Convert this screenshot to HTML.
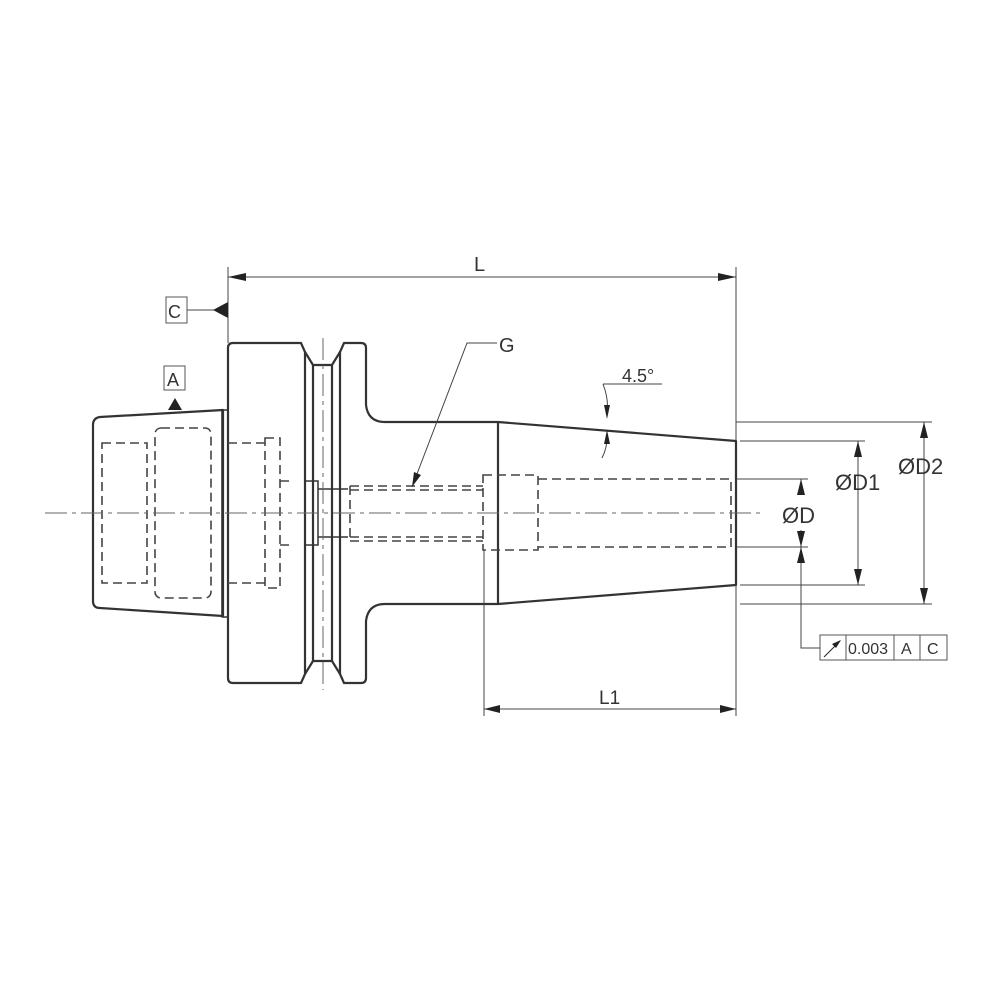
<!DOCTYPE html>
<html><head><meta charset="utf-8"><style>
html,body{margin:0;padding:0;background:#fff}
svg{display:block}
text{font-family:"Liberation Sans",sans-serif;fill:#333}
</style></head><body>
<svg width="1000" height="1000" viewBox="0 0 1000 1000">
<g fill="none" stroke="#333" stroke-width="2.2" stroke-linejoin="round">
<path d="M223,410 L100,417 Q93,418 93,425 L93,601 Q93,608 100,608 L223,616 Z"/>
<rect x="222" y="410" width="6" height="207" stroke-width="1.6"/>
<path d="M233,343 L301,343 L305,352 L305,674 L301,683 L233,683 Q228,683 228,678 L228,348 Q228,343 233,343 Z"/>
<path d="M305,352 L313,365 L332,365 L340,352 L340,674 L332,661 L313,661 L305,674"/>
<line x1="313" y1="365" x2="313" y2="661"/>
<line x1="332" y1="365" x2="332" y2="661"/>
<path d="M340,352 L344,343 L361,343 Q366,343 366,348 L366,405 Q368,422 385,422 L498,422 L736,441 L736,585 L498,604 L385,604 Q368,604 366,621 L366,678 Q366,683 361,683 L344,683 L340,674"/>
<line x1="498" y1="422" x2="498" y2="604"/>
</g>
<g fill="none" stroke="#333" stroke-width="1.5">
<rect x="305" y="481" width="13" height="64"/>
<path d="M318,489 L348,489 M318,537 L348,537"/>
</g>
<g fill="none" stroke="#444" stroke-width="1.6" stroke-dasharray="9,5">
<path d="M102,443 L147,443 L147,583 L102,583 Z"/>
<rect x="155" y="428" width="56" height="170" rx="6"/>
<path d="M228,443 L265,443 M228,583 L265,583"/>
<rect x="265" y="438" width="15" height="150"/>
<path d="M280,481 L293,481 M280,545 L293,545"/>
<path d="M350,486 L483,486 M350,490 L483,490 M350,537 L483,537 M350,541 L483,541 M350,486 L350,541"/>
<rect x="483" y="475" width="55" height="75"/>
<path d="M538,479 L731,479 L731,547 L538,547"/>
</g>
<g stroke="#666" stroke-width="1" fill="none" stroke-dasharray="22,5,4,5">
<line x1="45" y1="513" x2="765" y2="513"/>
<line x1="323" y1="338" x2="323" y2="690"/>
</g>
<g stroke="#444" stroke-width="1" fill="none">
<path d="M228,267 L228,343 M736,267 L736,440 M228,277 L736,277"/>
<path d="M187,310 L215,310"/>
<path d="M497,343 L467,343 L412,487"/>
<path d="M603,384 L662,384 M603,384 Q609,400 607,412 M607,438 Q607,448 602,458"/>
<path d="M736,422 L932,422 M740,604 L932,604 M924,422 L924,604"/>
<path d="M740,441 L865,441 M740,585 L865,585 M858,441 L858,585"/>
<path d="M736,479 L808,479 M736,547 L808,547 M801,479 L801,495 M801,530 L801,648 L820,648"/>
<path d="M484,550 L484,716 M736,585 L736,716 M484,709 L736,709"/>
</g>
<g fill="#222" stroke="none">
<path d="M228,277 L246,273 L246,281 Z"/>
<path d="M736,277 L718,273 L718,281 Z"/>
<path d="M213,310 L228,302 L228,318 Z"/>
<path d="M175,398 L168,410 L182,410 Z"/>
<path d="M412,487 L414,472 L421,475 Z"/>
<path d="M607,419 L604,405 L610,405 Z"/>
<path d="M607,430 L604,444 L610,444 Z"/>
<path d="M924,422 L920,438 L928,438 Z"/>
<path d="M924,604 L920,588 L928,588 Z"/>
<path d="M858,441 L854,457 L862,457 Z"/>
<path d="M858,585 L854,569 L862,569 Z"/>
<path d="M801,479 L797,495 L805,495 Z"/>
<path d="M801,547 L797,531 L805,531 Z"/>
<path d="M801,547 L797,563 L805,563 Z"/>
<path d="M484,709 L500,705 L500,713 Z"/>
<path d="M736,709 L720,705 L720,713 Z"/>
</g>
<g fill="#fff" stroke="#555" stroke-width="1">
<rect x="166" y="297" width="21" height="26"/>
<rect x="164" y="366" width="21" height="24"/>
<rect x="820" y="635" width="127" height="25"/>
<path d="M846,635 L846,660 M894,635 L894,660 M920,635 L920,660"/>
<path d="M824,657 L840,641" stroke="#222"/>
</g>
<path d="M841,640 L832,644 L836,648 Z" fill="#222"/>
<g font-size="18">
<text x="168" y="318">C</text>
<text x="167" y="386">A</text>
<text x="474" y="271" font-size="20">L</text>
<text x="499" y="352" font-size="20">G</text>
<text x="622" y="382">4.5°</text>
<text x="898" y="474" font-size="22">ØD2</text>
<text x="835" y="490" font-size="22">ØD1</text>
<text x="782" y="523" font-size="22">ØD</text>
<text x="599" y="704" font-size="19">L1</text>
<text x="848" y="654" font-size="16">0.003</text>
<text x="901" y="654" font-size="16">A</text>
<text x="927" y="654" font-size="16">C</text>
</g>
</svg>
</body></html>
